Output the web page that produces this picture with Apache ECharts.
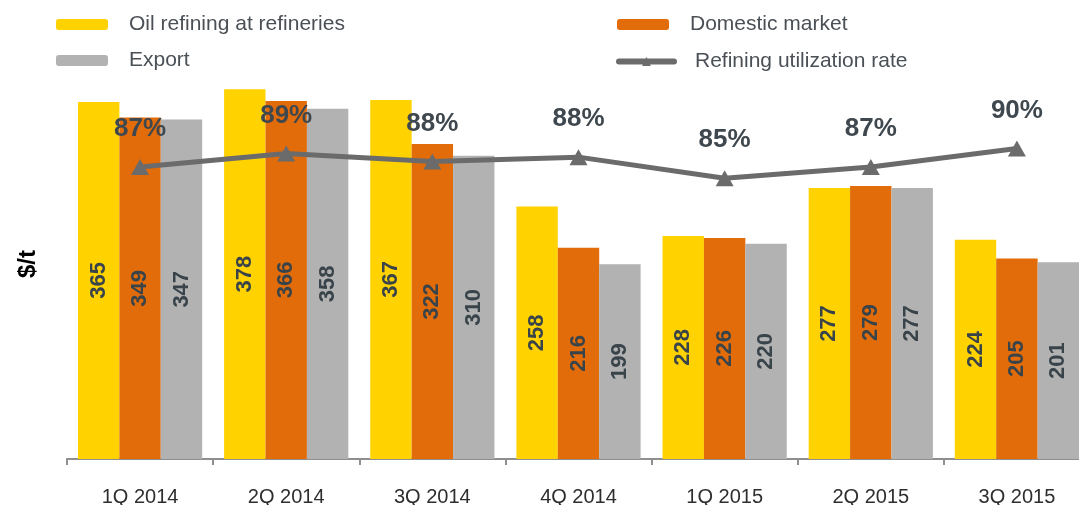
<!DOCTYPE html>
<html>
<head>
<meta charset="utf-8">
<script src="https://cdn.jsdelivr.net/npm/echarts@6/dist/echarts.min.js"></script>
<style>
    html, body { margin: 0; padding: 0; background: #fff; }
    #chart { width: 1079px; height: 505px; }
</style>
</head>
<body>
<div id="chart"></div>
<script>
// data
let quarters = ['1Q 2014', '2Q 2014', '3Q 2014', '4Q 2014', '1Q 2015', '2Q 2015', '3Q 2015'];
let refining = [365, 378, 367, 258, 228, 277, 224];
let domestic = [349, 366, 322, 216, 226, 279, 205];
let exportVals = [347, 358, 310, 199, 220, 277, 201];
let utilization = [86.8, 89.0, 87.7, 88.4, 85.0, 86.8, 89.8];

let font = 'Liberation Sans, Arial, sans-serif';

let myChart = echarts.init(document.getElementById('chart'));

// bar label, rotated inside the bar
let barLabel = {
    show: true,
    position: 'inside',
    rotate: 90,
    color: '#38434a',
    fontSize: 22,
    fontWeight: 'bold',
    fontFamily: font
};

function legendAt(name, left, top, extra) {
    return Object.assign({
        data: [name],
        left: left,
        top: top,
        padding: 0,
        itemWidth: 52,
        itemHeight: 11,
        textStyle: {
            color: '#4a5056',
            fontSize: 21,
            fontFamily: font,
            padding: [0, 0, 0, 16]
        },
        selectedMode: false
    }, extra || {});
}

let option = {
    animation: false,
    backgroundColor: '#fff',
    legend: [
        legendAt('Oil refining at refineries', 56, 14),
        legendAt('Export', 56, 50),
        legendAt('Domestic market', 617, 14),
        legendAt('Refining utilization rate', 616, 51, {
            itemWidth: 55,
            lineStyle: { width: 6, color: '#6b6b6b', cap: 'round' }
        })
    ],
    grid: {
        left: 67,
        right: -11,
        top: 9,
        bottom: 46,
        containLabel: false,
        outerBoundsMode: 'none'
    },
    graphic: [{
        type: 'text',
        x: 28,
        y: 264,
        rotation: Math.PI / 2,
        style: {
            text: '$/t',
            fill: '#000',
            font: 'bold 24px ' + font,
            align: 'center',
            verticalAlign: 'middle'
        }
    }],
    xAxis: {
        type: 'category',
        data: quarters,
        axisLine: { lineStyle: { color: '#8f8f8f', width: 2 } },
        axisTick: { show: true, length: 6, lineStyle: { color: '#8f8f8f', width: 2 } },
        axisLabel: { color: '#2e2e2e', fontSize: 20, fontFamily: font, margin: 28 }
    },
    yAxis: [{
        type: 'value',
        min: 0,
        max: 460,
        show: false,
        splitLine: { show: false }
    }, {
        type: 'value',
        min: 39.7,
        max: 112.3,
        show: false,
        splitLine: { show: false }
    }],
    series: [{
        name: 'Oil refining at refineries',
        type: 'bar',
        data: refining,
        barGap: 0,
        barCategoryGap: '15%',
        itemStyle: { color: '#ffd200' },
        label: barLabel
    }, {
        name: 'Domestic market',
        type: 'bar',
        data: domestic,
        barGap: 0,
        barCategoryGap: '15%',
        itemStyle: { color: '#e36c0a' },
        label: barLabel
    }, {
        name: 'Export',
        type: 'bar',
        data: exportVals,
        barGap: 0,
        barCategoryGap: '15%',
        itemStyle: { color: '#b2b2b2' },
        label: barLabel
    }, {
        name: 'Refining utilization rate',
        type: 'line',
        yAxisIndex: 1,
        data: utilization,
        symbol: 'triangle',
        symbolSize: [18, 16],
        lineStyle: { color: '#6b6b6b', width: 5 },
        itemStyle: { color: '#6b6b6b' },
        label: {
            show: true,
            position: 'top',
            distance: 17,
            color: '#3f484e',
            fontSize: 26,
            fontWeight: 'bold',
            fontFamily: font,
            formatter: (p) => Math.round(p.value) + '%'
        },
        z: 5
    }]
};

myChart.setOption(option);
</script>
</body>
</html>
